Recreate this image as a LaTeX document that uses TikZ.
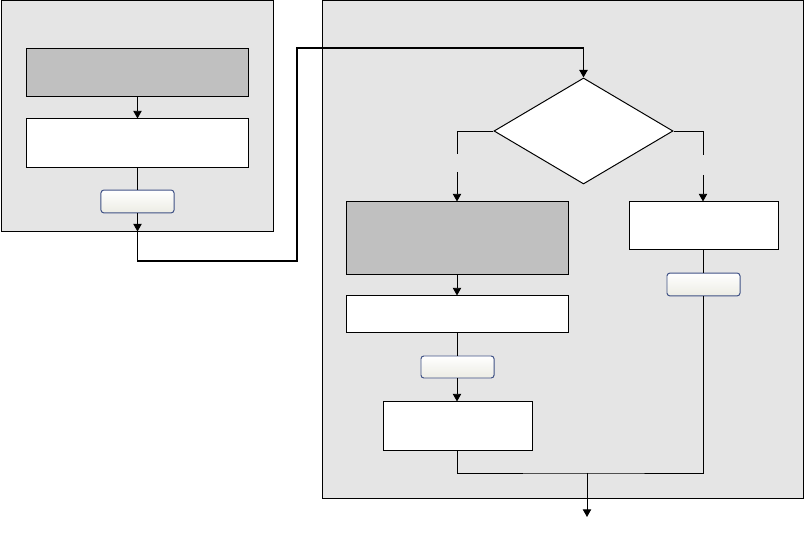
\documentclass[tikz,border=0pt]{standalone}
\usepackage{xcolor}
\usepackage{tikz}
\usetikzlibrary{arrows.meta, positioning, shapes.geometric}
\definecolor{fcPanel}{HTML}{E5E5E5}
\definecolor{fcStep}{HTML}{C0C0C0}
\definecolor{fcBtn}{HTML}{3F5185}
\definecolor{fcBtnLo}{HTML}{ECECE4}

\begin{document}
\begin{tikzpicture}[
  x=0.025cm, y=-0.025cm,
  panel/.style={draw, fill=fcPanel, line width=0.7pt, inner sep=0pt,
                minimum width=#1},
  box/.style={draw, fill=#1, line width=0.7pt, inner sep=0pt,
              minimum width=5.525cm},
  btn/.style={draw=fcBtn, rounded corners=2pt, top color=white, bottom color=fcBtnLo,
              line width=0.7pt, inner sep=0pt, minimum width=1.825cm, minimum height=0.57cm},
  decide/.style={draw, fill=white, diamond, aspect=1.69, inner sep=0pt, line width=0.7pt,
                 minimum width=4.475cm, minimum height=2.65cm},
  ln/.style={line width=0.7pt},
  arr/.style={-{Triangle[width=6pt,length=5.5pt]}, line width=0.7pt},
  link/.style={-{Triangle[width=6pt,length=5.5pt]}, line width=1.1pt}
]
  \useasboundingbox (0,0) rectangle (804,536);

  % panels
  \node[panel=6.775cm, minimum height=5.75cm] (panelA) at (137.5,116) {};
  \node[panel=12.01cm, minimum height=12.425cm] (panelB) at (562.75,249.5) {};

  % left panel
  \node[box=fcStep, minimum height=1.175cm] (stepA) at (137.5,72.5) {};
  \node[box=white, minimum height=1.2cm] (workA) at (137.5,143) {};
  \node[btn] (btnA) at (137.5,201.5) {};

  % right panel
  \node[decide] (check) at (583.5,131) {};
  \node[box=fcStep, minimum height=1.8cm] (stepB) at (457.5,238) {};
  \node[box=white, minimum height=0.9cm] (workB) at (457.5,314) {};
  \node[btn, minimum height=0.55cm] (btnB) at (457.5,367) {};
  \node[box=white, minimum width=3.7cm, minimum height=1.2cm] (workC) at (458,426) {};
  \node[box=white, minimum width=3.7cm, minimum height=1.175cm] (workR) at (704,225.5) {};
  \node[btn] (btnR) at (703.5,284.5) {};

  \coordinate (bendA) at (297,261);
  \coordinate (bendB) at (297,48);
  \coordinate (yesA) at (457,154);
  \coordinate (yesB) at (457,172);
  \coordinate (noA) at (703,155);
  \coordinate (noB) at (703,175);
  \coordinate (joinM) at (587,473);
  \coordinate (exitM) at (587,517);

  \draw[arr] (stepA) -- (workA);
  \draw[ln] (workA) -- (btnA);
  \draw[arr] (btnA) -- (btnA |- panelA.south);
  \draw[link] (btnA |- panelA.south) |- (bendA) -- (bendB) -| (check.north);

  \draw[ln] (check.west) -| (yesA);
  \draw[arr] (yesB) -- (yesB |- stepB.north);
  \draw[ln] (check.east) -| (noA);
  \draw[arr] (noB) -- (noB |- workR.north);

  \draw[arr] (stepB.south -| yesB) -- (yesB |- workB.north);
  \draw[ln] (workB.south -| yesB) -- (yesB |- btnB.north);
  \draw[arr] (btnB.south -| yesB) -- (yesB |- workC.north);
  \draw[ln] (workR.south -| noB) -- (noB |- btnR.north);

  \draw[ln] (workC.south -| yesB) |- (joinM) -| (btnR.south -| noB);
  \draw[arr] (joinM) -- (exitM);
\end{tikzpicture}
\end{document}
